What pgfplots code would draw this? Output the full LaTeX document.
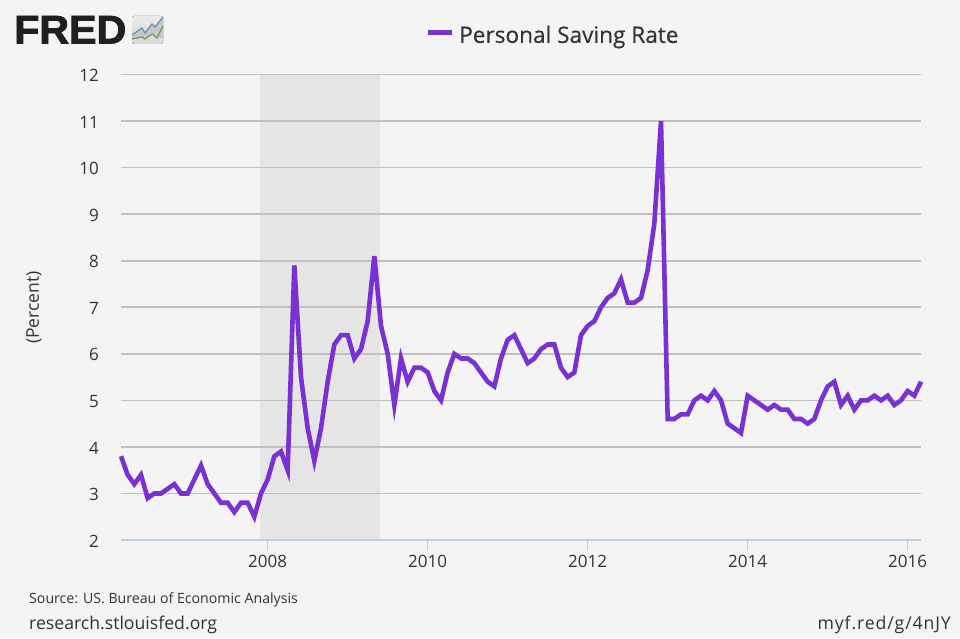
\documentclass[border=0pt]{standalone}
\usepackage{pgfplots}
\pgfplotsset{compat=1.18}
\usepackage{fontspec}
\setmainfont{Open Sans}
\newfontfamily\logofont[FakeBold=2,FakeStretch=1.03]{Liberation Sans}
\newfontfamily\medfont[FakeBold=0.4]{Open Sans}
\definecolor{bgc}{HTML}{F4F4F4}
\definecolor{recc}{HTML}{E5E5E5}
\definecolor{gridc}{HTML}{C0C0C0}
\definecolor{axc}{HTML}{C0D0E0}
\definecolor{linec}{HTML}{7A30D2}
\definecolor{txt}{HTML}{333333}
\begin{document}
\begin{tikzpicture}[x=1pt,y=1pt]
\fill[bgc] (0,0) rectangle (960,638);
\begin{axis}[
  at={(121pt,98pt)}, anchor=south west,
  scale only axis, width=800pt, height=465.5pt,
  xmin=0, xmax=120, ymin=2, ymax=12,
  axis lines=none,
  clip=false,
  /pgf/number format/assume math mode=true,
]
\addplot[draw=none, fill=recc, forget plot] coordinates {(20.85,2) (20.85,12) (38.85,12) (38.85,2)} \closedcycle;
\pgfplotsinvokeforeach{3,4,5,6,7,8,9,10,11,12}{
  \addplot[gridc, line width=1.6pt, forget plot] coordinates {(0,#1) (120,#1)};
  \node[anchor=east, yshift=-1pt, font=\fontsize{17}{17}\selectfont, text=txt, inner sep=0pt] at (axis cs:-3.3,#1) {#1};
}
\node[anchor=east, yshift=-1pt, font=\fontsize{17}{17}\selectfont, text=txt, inner sep=0pt] at (axis cs:-3.3,2) {2};
\addplot[axc, line width=1.6pt, forget plot] coordinates {(0,2) (120,2)};
\foreach \p/\l in {22/2008,46/2010,70/2012,94/2014,118/2016}{
  \edef\temp{\noexpand\draw[axc, line width=1.2pt] (axis cs:\p,2) -- ([yshift=-10pt]axis cs:\p,2);
  \noexpand\node[anchor=center, font=\noexpand\fontsize{17}{17}\noexpand\selectfont, text=txt, inner sep=0pt] at ([yshift=-21pt]axis cs:\p,2) {\l};}
  \temp
}
\addplot[linec, line width=4.6pt, line join=miter, miter limit=10] table[x=i,y=v] {
i v
0 3.8
1 3.4
2 3.2
3 3.4
4 2.9
5 3.0
6 3.0
7 3.1
8 3.2
9 3.0
10 3.0
11 3.3
12 3.6
13 3.2
14 3.0
15 2.8
16 2.8
17 2.6
18 2.8
19 2.8
20 2.5
21 3.0
22 3.3
23 3.8
24 3.9
25 3.5
26 7.9
27 5.5
28 4.4
29 3.7
30 4.4
31 5.4
32 6.2
33 6.4
34 6.4
35 5.9
36 6.1
37 6.7
38 8.1
39 6.6
40 6.0
41 4.9
42 5.9
43 5.4
44 5.7
45 5.7
46 5.6
47 5.2
48 5.0
49 5.6
50 6.0
51 5.9
52 5.9
53 5.8
54 5.6
55 5.4
56 5.3
57 5.9
58 6.3
59 6.4
60 6.1
61 5.8
62 5.9
63 6.1
64 6.2
65 6.2
66 5.7
67 5.5
68 5.6
69 6.4
70 6.6
71 6.7
72 7.0
73 7.2
74 7.3
75 7.6
76 7.1
77 7.1
78 7.2
79 7.8
80 8.8
81 11.0
82 4.6
83 4.6
84 4.7
85 4.7
86 5.0
87 5.1
88 5.0
89 5.2
90 5.0
91 4.5
92 4.4
93 4.3
94 5.1
95 5.0
96 4.9
97 4.8
98 4.9
99 4.8
100 4.8
101 4.6
102 4.6
103 4.5
104 4.6
105 5.0
106 5.3
107 5.4
108 4.9
109 5.1
110 4.8
111 5.0
112 5.0
113 5.1
114 5.0
115 5.1
116 4.9
117 5.0
118 5.2
119 5.1
120 5.4
};
\end{axis}
% legend
\draw[linec, line width=4.6pt] (428,605.3) -- (452,605.3);
\node[anchor=west, inner sep=0pt, text=txt, font=\medfont\fontsize{22.6}{23}\selectfont] at (459,601) {Personal Saving Rate};
% y label
\node[rotate=90, inner sep=0pt, text=txt, font=\fontsize{17.5}{17.5}\selectfont] at (34,330.5) {(Percent)};
% footer
\node[anchor=west, inner sep=0pt, text=txt, font=\fontsize{14.15}{14}\selectfont] at (29,38.5) {Source: US. Bureau of Economic Analysis};
\node[anchor=west, inner sep=0pt, text=txt, font=\fontsize{17.65}{17}\selectfont] at (29,13) {research.stlouisfed.org};
\node[anchor=east, inner sep=0pt, text=txt, font=\fontsize{17.65}{17}\selectfont\addfontfeature{LetterSpace=5}] at (951,13) {myf.red/g/4nJY};
% logo
\node[anchor=base west, inner sep=0pt, text=black!88, font=\logofont\fontsize{40}{41}\selectfont\bfseries] at (14,594.5) {FRED};
\fill[rounded corners=2.5pt, top color=bgc!96!black, bottom color=black!15] (132,594) rectangle (163,622);
\fill[black!22] (132,603) -- (142,610) -- (145,605) -- (152,614) -- (155,611) -- (163,621) -- (163,600) -- (157,600) -- (152,604) -- (145,599) -- (142,601) -- (132,599) -- cycle;
\draw[line width=1.3pt, color={rgb,255:red,100;green,150;blue,180}] (132,603) -- (142,610) -- (145,605) -- (152,614) -- (155,611) -- (163,621);
\draw[line width=1.3pt, color={rgb,255:red,110;green,160;blue,90}] (132,599) -- (142,601) -- (145,599) -- (152,604) -- (157,600) -- (163,612);
\end{tikzpicture}
\end{document}
